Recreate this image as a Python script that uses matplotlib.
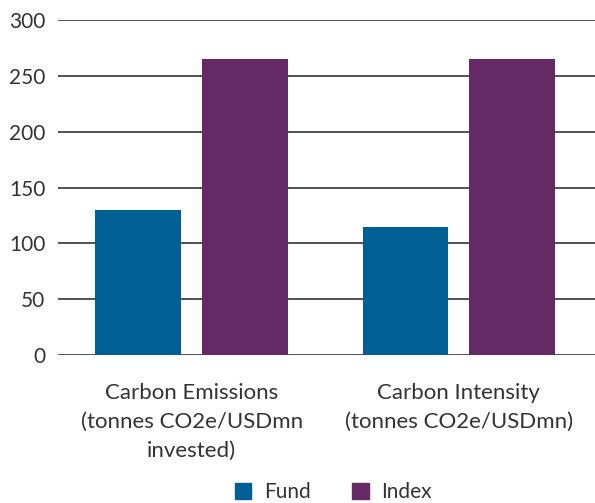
import numpy as np
import matplotlib.pyplot as plt
from matplotlib.patches import Patch

categories = ['Carbon Emissions\n(tonnes CO2e/USDmn\ninvested)',
              'Carbon Intensity\n(tonnes CO2e/USDmn)']
fund = [130, 115]
index = [265, 265]
series_names = ['Fund', 'Index']
colors = ['#006096', '#652965']

plt.rcParams['font.family'] = ['Lato', 'DejaVu Sans']
fig = plt.figure(figsize=(5.95, 5.03), dpi=100)
ax = fig.add_axes([0.0975, 0.2942, 0.9025, 0.666])

x = np.arange(len(categories))
ax.bar(x - 0.2, fund, width=0.32, color=colors[0], zorder=3)
ax.bar(x + 0.2, index, width=0.32, color=colors[1], zorder=3)

ax.set_xlim(-0.5, 1.51)
ax.set_ylim(0, 300)
ax.set_yticks(np.arange(0, 301, 50))
ax.yaxis.grid(True, color='#333333', linewidth=1.2, zorder=0)
ax.set_xticks(x)
ax.set_xticklabels(categories, fontsize=16, color='#333333', linespacing=1.55)
ax.tick_params(axis='x', length=0, pad=20)
ax.tick_params(axis='y', length=0, pad=9, labelsize=15, labelcolor='#333333')
for s in ax.spines.values():
    s.set_visible(False)

handles = [Patch(color=c, label=n) for c, n in zip(colors, series_names)]
fig.legend(handles=handles, loc='center', bbox_to_anchor=(0.56, 0.022), ncol=2,
           frameon=False, fontsize=15, handlelength=0.8, handleheight=0.8,
           columnspacing=2.0, handletextpad=0.6, labelcolor='#333333')

fig.savefig('out.png', dpi=100)
